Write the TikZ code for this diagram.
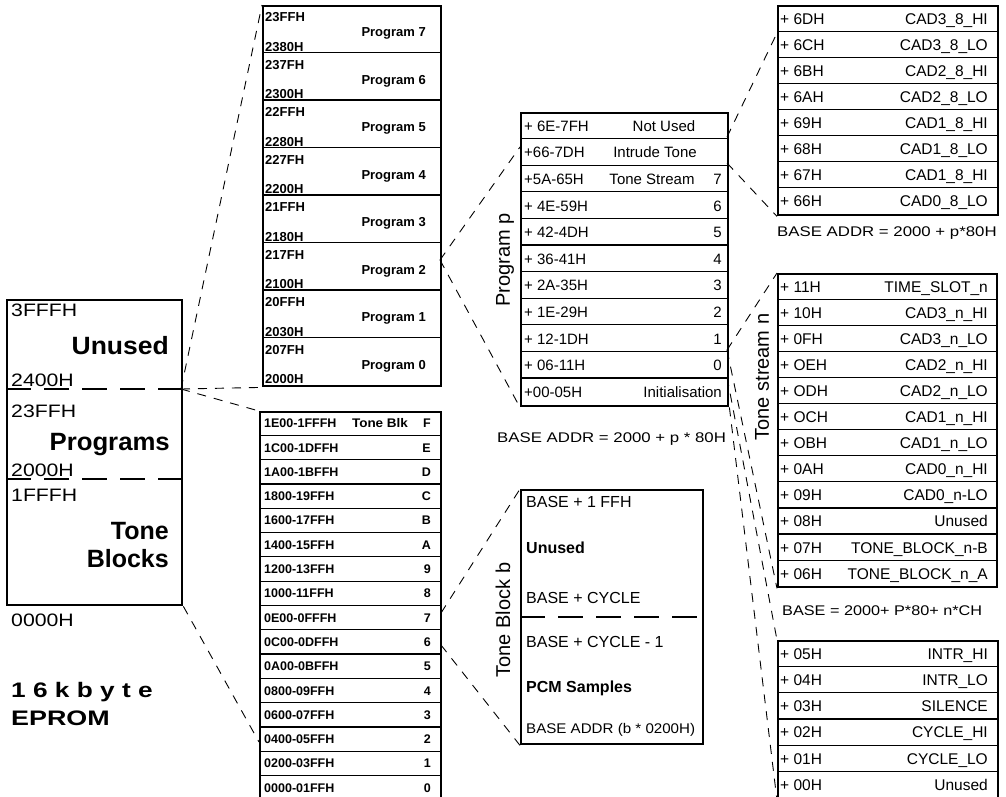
\documentclass[tikz,border=0pt]{standalone}
\usepackage{graphicx}
\usepackage{fontspec}
\setmainfont{Liberation Sans}
\newcommand\fs[1]{\fontsize{#1}{#1}\selectfont}
\newcommand\hs[2]{\scalebox{#1}[1]{#2}}
\tikzset{
  box/.style={draw, line width=2.4pt, inner sep=0pt, anchor=north west},
  sepline/.style={line width=1.2pt},
  conn/.style={line width=0.9pt, dash pattern=on 9pt off 8pt},
  bigdash/.style={line width=2.2pt, dash pattern=on 25pt off 13pt},
  lbl/.style={inner sep=0pt, anchor=west},
  rlbl/.style={inner sep=0pt, anchor=east},
  clbl/.style={inner sep=0pt, anchor=center},
  fz/.style={font=\fs{#1}, text height={0.72*#1pt}, text depth=0pt},
  fzb/.style={font=\fs{#1}\bfseries, text height={0.72*#1pt}, text depth=0pt},
}
\begin{document}
\begin{tikzpicture}[x=1pt,y=-1pt]
\useasboundingbox (0,0) rectangle (1006,796);
\clip (0,0) rectangle (1006,796);

% ---------------- EPROM overview box ----------------
\node[box, minimum width=175pt, minimum height=305pt] (eprom) at (6,299) {};
\draw[bigdash] (6,389) -- (181,389);
\draw[bigdash] (6,479) -- (181,479);
\coordinate (c2400) at (181,389);
\node[lbl, fz=18] (e3fff) at (11,310) {\hs{1.18}{3FFFH}};
\node[rlbl, fzb=25] (eunused) at (169,345) {\hs{1.06}{Unused}};
\node[lbl, fz=18] (e2400) at (11,380) {\hs{1.18}{2400H}};
\node[lbl, fz=18] (e23ff) at (11,411) {\hs{1.18}{23FFH}};
\node[rlbl, fzb=25] (eprogs) at (170,441) {\hs{1.03}{Programs}};
\node[lbl, fz=18] (e2000) at (11,470) {\hs{1.18}{2000H}};
\node[lbl, fz=18] (e1fff) at (11,495) {\hs{1.18}{1FFFH}};
\node[rlbl, fzb=25] (etone) at (169,530) {Tone};
\node[rlbl, fzb=25] (eblocks) at (169,558) {Blocks};
\node[lbl, fz=18] (e0000) at (11,620) {\hs{1.18}{0000H}};
\node[lbl, fzb=21] (e16k) at (11,690) {\hs{1.25}{1\ 6\ k\ b\ y\ t\ e}};
\node[lbl, fzb=21] (eeprom) at (11,718) {\hs{1.28}{EPROM}};

% ---------------- Programs table ----------------
\node[box, minimum width=178pt, minimum height=380pt] (prog) at (262,5) {};
\foreach \i in {1,...,7} \draw[sepline] (262,{5+\i*47.5}) -- (440,{5+\i*47.5});
\foreach \t/\b/\p [count=\k from 0] in {23FFH/2380H/7,237FH/2300H/6,22FFH/2280H/5,227FH/2200H/4,21FFH/2180H/3,217FH/2100H/2,20FFH/2030H/1,207FH/2000H/0}{
  \node[lbl, fzb=13] (ptop\k) at (265,{5+\k*47.5+12}) {\t};
  \node[lbl, fzb=13] (pbot\k) at (265,{5+\k*47.5+41.5}) {\b};
  \node[rlbl, fzb=13] (pname\k) at (426,{5+\k*47.5+27}) {Program \p};
}
\coordinate (prog2) at (440,260);

% ---------------- Tone blocks table ----------------
\node[box, minimum width=181pt, minimum height=389pt] (tone) at (259,411) {};
\foreach \i in {1,...,15} \draw[sepline] (259,{411+\i*24.3}) -- (440,{411+\i*24.3});
\foreach \a/\b [count=\k from 0] in {1E00-1FFFH/F,1C00-1DFFH/E,1A00-1BFFH/D,1800-19FFH/C,1600-17FFH/B,1400-15FFH/A,1200-13FFH/9,1000-11FFH/8,0E00-0FFFH/7,0C00-0DFFH/6,0A00-0BFFH/5,0800-09FFH/4,0600-07FFH/3,0400-05FFH/2,0200-03FFH/1,0000-01FFH/0}{
  \node[lbl, fzb=12.5] (tl\k) at (264,{411+\k*24.3+12.2}) {\a};
  \node[rlbl, fzb=12.5] (tr\k) at (431,{411+\k*24.3+12.2}) {\b};
}
\node[clbl, fzb=12.5] (tblk) at (380,423.2) {\hs{1.08}{Tone Blk}};
\coordinate (tone7) at (441,613);
\coordinate (tone6) at (441,645);
\coordinate (eprombot) at (259,742);

% ---------------- Program p table ----------------
\node[box, minimum width=207pt, minimum height=293pt] (progp) at (520,112) {};
\foreach \i in {1,...,10} \draw[sepline] (520,{112+\i*26.6}) -- (727,{112+\i*26.6});
\foreach \a [count=\k from 0] in {+ 6E-7FH,+66-7DH,+5A-65H,+ 4E-59H,+ 42-4DH,+ 36-41H,+ 2A-35H,+ 1E-29H,+ 12-1DH,+ 06-11H,+00-05H}{
  \node[lbl, fz=15] (ppl\k) at (524,{112+\k*26.6+13.8}) {\a};
}
\foreach \n [count=\k from 2] in {7,6,5,4,3,2,1,0}{
  \node[rlbl, fz=15] (ppr\k) at (722,{112+\k*26.6+13.8}) {\n};
}
\node[clbl, fz=15] (ppnu) at (664,125.8) {Not Used};
\node[clbl, fz=15] (ppit) at (655,152.4) {Intrude Tone};
\node[clbl, fz=15] (ppts) at (652,179) {Tone Stream};
\node[rlbl, fz=15] (ppinit) at (722,391.8) {Initialisation};
\node[clbl, font=\fs{20}, rotate=90] (progplbl) at (505,260) {Program p};
\node[lbl, fz=14] (ppbase) at (497,437) {\hs{1.2}{BASE ADDR = 2000 + p * 80H}};
\coordinate (ppit1) at (520,147);
\coordinate (ppA) at (727,137);
\coordinate (ppB) at (727,163);
\coordinate (ppC) at (727,350);
\coordinate (ppD) at (727,377);

% ---------------- CAD 8 table ----------------
\node[box, minimum width=220pt, minimum height=209pt] (cad) at (777,5) {};
\foreach \i in {1,...,7} \draw[sepline] (777,{5+\i*26.1}) -- (997,{5+\i*26.1});
\foreach \a/\b [count=\k from 0] in {+ 6DH/CAD3\_8\_HI,+ 6CH/CAD3\_8\_LO,+ 6BH/CAD2\_8\_HI,+ 6AH/CAD2\_8\_LO,+ 69H/CAD1\_8\_HI,+ 68H/CAD1\_8\_LO,+ 67H/CAD1\_8\_HI,+ 66H/CAD0\_8\_LO}{
  \node[lbl, fz=15.5] (cl\k) at (780,{5+\k*26.1+13.5}) {\a};
  \node[rlbl, fz=15.5] (cr\k) at (988,{5+\k*26.1+13.5}) {\b};
}
\coordinate (cad1) at (777,33);
\node[lbl, fz=14] (cadbase) at (777,231) {\hs{1.2}{BASE ADDR = 2000 + p*80H}};

% ---------------- Tone stream table ----------------
\node[box, minimum width=219pt, minimum height=313pt] (ts) at (777,273) {};
\foreach \i in {1,...,11} \draw[sepline] (777,{273+\i*26.1}) -- (996,{273+\i*26.1});
\foreach \a/\b [count=\k from 0] in {+ 11H/TIME\_SLOT\_n,+ 10H/CAD3\_n\_HI,+ 0FH/CAD3\_n\_LO,+ OEH/CAD2\_n\_HI,+ ODH/CAD2\_n\_LO,+ OCH/CAD1\_n\_HI,+ OBH/CAD1\_n\_LO,+ 0AH/CAD0\_n\_HI,+ 09H/CAD0\_n-LO,+ 08H/Unused,+ 07H/TONE\_BLOCK\_n-B,+ 06H/TONE\_BLOCK\_n\_A}{
  \node[lbl, fz=15.5] (sl\k) at (780,{273+\k*26.1+13.5}) {\a};
  \node[rlbl, fz=15.5] (sr\k) at (988,{273+\k*26.1+13.5}) {\b};
}
\node[clbl, font=\fs{20}, rotate=90] (tslbl) at (762,377) {Tone stream n};
\node[lbl, fz=14] (tsbase) at (782,610) {\hs{1.16}{BASE = 2000+ P*80+ n*CH}};

% ---------------- Bottom tone stream table ----------------
\node[box, minimum width=220pt, minimum height=158pt] (bt) at (777,640) {};
\foreach \i in {1,...,5} \draw[sepline] (777,{640+\i*26.3}) -- (997,{640+\i*26.3});
\foreach \a/\b [count=\k from 0] in {+ 05H/INTR\_HI,+ 04H/INTR\_LO,+ 03H/SILENCE,+ 02H/CYCLE\_HI,+ 01H/CYCLE\_LO,+ 00H/Unused}{
  \node[lbl, fz=15.5] (bl\k) at (780,{640+\k*26.3+13.5}) {\a};
  \node[rlbl, fz=15.5] (br\k) at (988,{640+\k*26.3+13.5}) {\b};
}

% ---------------- Tone Block b ----------------
\node[box, minimum width=182pt, minimum height=254pt] (tbb) at (520,489) {};
\draw[bigdash] (520,617) -- (702,617);
\node[lbl, fz=16] (tb1) at (526,502) {BASE + 1 FFH};
\node[lbl, fzb=16] (tb2) at (526,548) {Unused};
\node[lbl, fz=16] (tb3) at (526,598) {BASE + CYCLE};
\node[lbl, fz=16] (tb4) at (526,642) {BASE + CYCLE - 1};
\node[lbl, fzb=16] (tb5) at (526,687) {PCM Samples};
\node[lbl, fz=14] (tb6) at (526,728) {\hs{1.08}{BASE ADDR (b * 0200H)}};
\node[clbl, font=\fs{20}, rotate=90] (tbblbl) at (503,620) {Tone Block b};

% ---------------- Connectors ----------------
\draw[conn] (c2400) -- (prog.north west);
\draw[conn] (c2400) -- (prog.south west);
\draw[conn] (c2400) -- (tone.north west);
\draw[conn] (eprom.south east) -- (eprombot);
\draw[conn] (prog2) -- (ppit1);
\draw[conn] (prog2) -- (progp.south west);
\draw[conn] (ppA) -- (cad1);
\draw[conn] (ppB) -- (cad.south west);
\draw[conn] (ppC) -- (ts.north west);
\draw[conn] (ppC) -- (ts.south west);
\draw[conn] (ppD) -- (bt.north west);
\draw[conn] (progp.south east) -- (bt.south west);
\draw[conn] (tone7) -- (tbb.north west);
\draw[conn] (tone6) -- (tbb.south west);
\end{tikzpicture}
\end{document}
